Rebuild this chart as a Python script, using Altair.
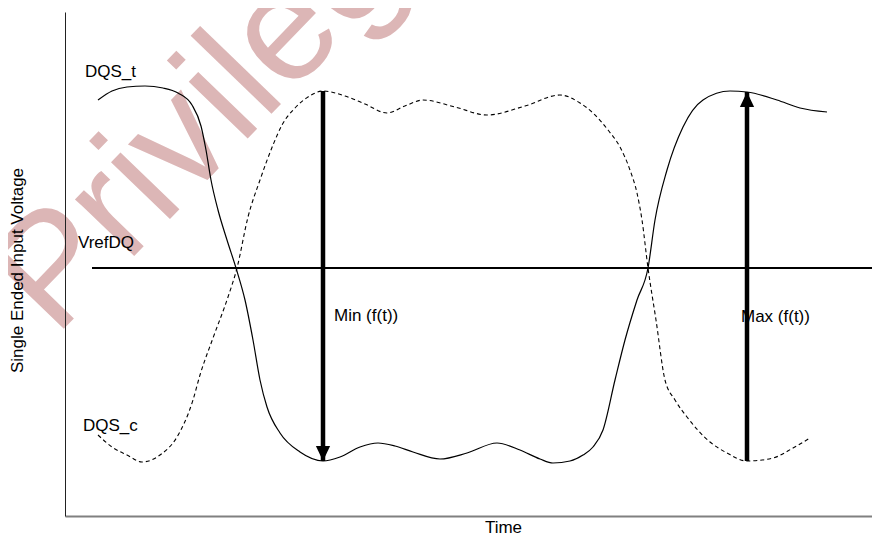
import altair as alt
import pandas as pd

FONT = "Liberation Sans"

# Reference units: time t (0..807), voltage v (0..504)
dqs_t_time = [33, 47, 62, 80, 98, 113, 127, 136, 141, 146, 153, 162, 171, 180, 188, 195, 202, 215, 235, 258,
              275, 295, 313, 330, 348, 375, 402, 432, 455, 475, 488, 505, 518, 528, 538, 550, 560, 572, 583,
              590, 602, 618, 638, 665, 682, 712, 735, 762]
dqs_t_volt = [416, 425, 429, 430, 428, 423, 411, 390, 366, 336, 306, 276, 248, 216, 176, 136, 109, 83, 64, 55,
              59, 69, 73, 70, 64, 57, 63, 73, 66, 57, 53, 55, 61, 69, 86, 136, 176, 216, 248,
              296, 346, 389, 416, 425, 424, 416, 408, 404]

dqs_c_time = [33, 47, 62, 77, 95, 112, 128, 135, 148, 163, 172, 183, 195, 208, 217, 230, 243, 258, 280, 300,
              322, 340, 358, 390, 422, 460, 495, 515, 528, 543, 555, 565, 572, 577, 583, 591, 600, 610,
              622, 645, 662, 682, 708, 728, 745]
dqs_c_volt = [81, 69, 61, 54, 61, 79, 116, 141, 178, 219, 248, 299, 336, 371, 391, 408, 419, 425, 420, 412,
              403, 410, 416, 409, 401, 410, 421, 413, 403, 386, 369, 346, 323, 296, 248, 196, 136, 116,
              99, 74, 63, 55, 58, 68, 78]

vref_level = 248
vref_start = 27
vref_end = 807

arrow_time = [258, 682]
arrow_from = [425, 55]
arrow_to = [55, 424]

label_text = ["DQS_t", "DQS_c", "VrefDQ", "Min (f(t))", "Max (f(t))"]
label_time = [20, 18, 13, 269, 676]
label_volt = [439, 85, 268, 195, 194]

watermark = "Privileged"

xs = alt.Scale(domain=[0, 807], nice=False, zero=False)
ys = alt.Scale(domain=[0, 504], nice=False, zero=False)

curves = pd.DataFrame({
    "t": dqs_t_time + dqs_c_time,
    "v": dqs_t_volt + dqs_c_volt,
    "s": ["DQS_t"] * len(dqs_t_time) + ["DQS_c"] * len(dqs_c_time),
})

wm = alt.Chart(pd.DataFrame({"w": [watermark]})).mark_text(
    font=FONT, fontSize=155, color="#dcb6b6", angle=314, align="left", baseline="alphabetic"
).encode(x=alt.value(-10), y=alt.value(326), text="w:N")

axes_layer = alt.Chart(pd.DataFrame({"t": [0, 807], "v": [0, 504]})).mark_point(opacity=0).encode(
    x=alt.X("t:Q", scale=xs, axis=alt.Axis(
        title="Time", ticks=False, labels=False, grid=False, domainColor="#808080", domainWidth=2,
        titleFont=FONT, titleFontSize=17, titleFontWeight="normal", titleColor="black",
        titlePadding=3, titleX=438, zindex=1)),
    y=alt.Y("v:Q", scale=ys, axis=alt.Axis(
        title="Single Ended Input Voltage", ticks=False, labels=False, grid=False,
        domainColor="#222222", domainWidth=1,
        titleFont=FONT, titleFontSize=17, titleFontWeight="normal", titleColor="black",
        titlePadding=39, titleY=258, zindex=1)),
)

solid = alt.Chart(curves[curves.s == "DQS_t"]).mark_line(
    color="black", strokeWidth=1.2, interpolate="monotone"
).encode(x=alt.X("t:Q", scale=xs), y=alt.Y("v:Q", scale=ys), order="t:Q")

dashed = alt.Chart(curves[curves.s == "DQS_c"]).mark_line(
    color="black", strokeWidth=1.1, strokeDash=[4, 3], interpolate="monotone"
).encode(x=alt.X("t:Q", scale=xs), y=alt.Y("v:Q", scale=ys), order="t:Q")

vref = alt.Chart(pd.DataFrame({"t": [vref_start], "t2": [vref_end], "v": [vref_level]})).mark_rule(
    color="black", strokeWidth=2
).encode(x=alt.X("t:Q", scale=xs), x2="t2:Q", y=alt.Y("v:Q", scale=ys))

arr = pd.DataFrame({
    "t": arrow_time, "a": arrow_from, "b": arrow_to,
    "dir": ["down", "up"],
})
shafts = alt.Chart(arr).mark_rule(color="black", strokeWidth=4.5).encode(
    x=alt.X("t:Q", scale=xs), y=alt.Y("a:Q", scale=ys), y2="b:Q"
)
head_down = alt.Chart(arr[arr.dir == "down"]).mark_point(
    shape="M0,0L-0.95,-2L0.95,-2Z", size=225, filled=True, color="black", opacity=1, strokeWidth=0
).encode(x=alt.X("t:Q", scale=xs), y=alt.Y("b:Q", scale=ys))
head_up = alt.Chart(arr[arr.dir == "up"]).mark_point(
    shape="M0,0L-0.95,2L0.95,2Z", size=225, filled=True, color="black", opacity=1, strokeWidth=0
).encode(x=alt.X("t:Q", scale=xs), y=alt.Y("b:Q", scale=ys))

labels = alt.Chart(pd.DataFrame({"txt": label_text, "t": label_time, "v": label_volt})).mark_text(
    font=FONT, fontSize=17, color="black", align="left", baseline="alphabetic"
).encode(x=alt.X("t:Q", scale=xs), y=alt.Y("v:Q", scale=ys), text="txt:N")

chart = alt.layer(wm, axes_layer, solid, dashed, vref, shafts, head_down, head_up, labels).properties(
    width=807, height=504,
    autosize=alt.AutoSizeParams(type="none"),
    padding={"left": 57, "top": 4, "right": 0, "bottom": 21},
).configure_view(stroke=None)

chart.save("out.html", embed_options={"renderer": "svg", "actions": False})
